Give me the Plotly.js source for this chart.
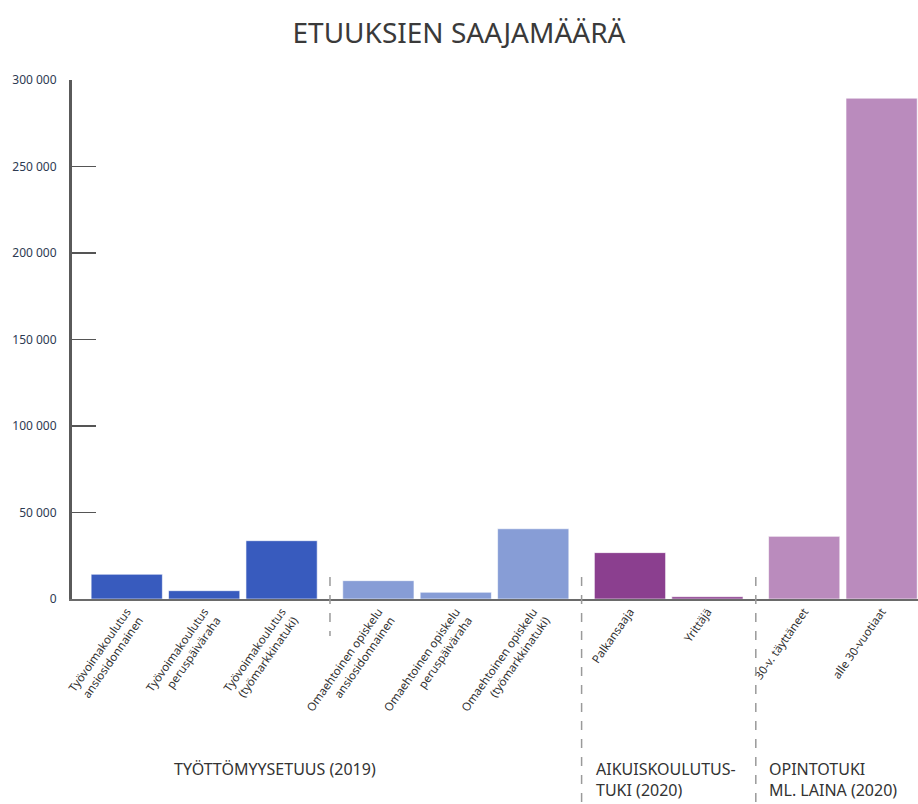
<!DOCTYPE html>
<html>
<head>
<meta charset="utf-8">
<script src="https://cdn.plot.ly/plotly-3.0.1.min.js"></script>
<style>html,body{margin:0;padding:0;background:#fff;}#chart{width:918px;height:804px;}</style>
</head>
<body>
<div id="chart"></div>
<script>
// ---- data ----
const categories = [
  "Työvoimakoulutus<br>ansiosidonnainen",
  "Työvoimakoulutus<br>peruspäiväraha",
  "Työvoimakoulutus<br>(työmarkkinatuki)",
  "Omaehtoinen opiskelu<br>ansiosidonnainen",
  "Omaehtoinen opiskelu<br>peruspäiväraha",
  "Omaehtoinen opiskelu<br>(työmarkkinatuki)",
  "Palkansaaja",
  "Yrittäjä",
  "30-v. täyttäneet",
  "alle 30-vuotiaat"
];
const recipients = [14300, 4800, 33700, 10600, 3900, 40600, 26800, 1300, 36200, 289500];
const subgroupOf = [0, 0, 0, 1, 1, 1, 2, 2, 3, 3];
const groupLabels = [
  "TYÖTTÖMYYSETUUS (2019)",
  "AIKUISKOULUTUS-<br>TUKI (2020)",
  "OPINTOTUKI<br>ML. LAINA (2020)"
];
const barColors = ["#385BBE","#385BBE","#385BBE","#879DD6","#879DD6","#879DD6","#8B3F8F","#8B3F8F","#BA8BBD","#BA8BBD"];
const yTicks = [0, 50000, 100000, 150000, 200000, 250000, 300000];

// ---- layout helpers ----
const GAP = 0.25;
const xpos = categories.map((c, i) => i + subgroupOf[i] * GAP);
const seps = [];
for (let i = 1; i < xpos.length; i++) {
  if (subgroupOf[i] !== subgroupOf[i - 1]) seps.push((xpos[i] + xpos[i - 1]) / 2);
}

const FONT = "Noto Sans, Open Sans, sans-serif";
const plotTop = 80, plotBottom = 599, plotH = plotBottom - plotTop;
const py = (px) => (plotBottom - px) / plotH;

const shapes = seps.map((s, k) => ({
  type: "line", xref: "x", yref: "paper",
  x0: s, x1: s, y0: py(577), y1: k === 0 ? py(636) : py(804),
  line: {color: "#9a9a9a", width: 1.5, dash: "dash"}
}));
shapes.push({type: "line", xref: "paper", yref: "paper", x0: 0, x1: 0, y0: 0, y1: 1,
  line: {color: "#5a5a5a", width: 2}});

const annPos = [0.58, 6.04, 8.27];
const annotations = groupLabels.map((t, k) => ({
  text: t, xref: "x", yref: "paper", x: annPos[k], y: py(756),
  xanchor: "left", yanchor: "top", align: "left", showarrow: false,
  font: {family: FONT, size: 16, color: "#333"}
}));

const trace = {
  type: "bar", x: xpos, y: recipients, width: 0.92,
  marker: {color: barColors, line: {color: "rgba(255,255,255,0.6)", width: 1}},
  hoverinfo: "skip"
};

const layout = {
  width: 918, height: 804,
  margin: {l: 71, r: 0, t: plotTop, b: 804 - plotBottom},
  paper_bgcolor: "#fff", plot_bgcolor: "#fff",
  separators: ", ",
  showlegend: false,
  title: {text: "ETUUKSIEN SAAJAMÄÄRÄ", x: 0.5, xanchor: "center", y: 1 - 33 / 804, yanchor: "middle",
          font: {family: FONT, size: 28, color: "#3a3a3a"}},
  xaxis: {
    range: [-0.72, 10.22], tickmode: "array", tickvals: xpos, ticktext: categories,
    tickangle: -55, tickfont: {family: FONT, size: 11.5, color: "#333"},
    showline: true, linecolor: "#6a6a6a", linewidth: 1.5, ticks: "", showgrid: false, zeroline: false,
    fixedrange: true
  },
  yaxis: {
    range: [0, 300000], tickmode: "array", tickvals: yTicks, tickformat: ",d",
    ticks: "inside", ticklen: 25, tickwidth: 1.5, tickcolor: "#555",
    ticklabelstandoff: 10,
    tickfont: {family: FONT, size: 12, color: "#2d3a52"},
    showline: true, linecolor: "#5a5a5a", linewidth: 2, showgrid: false, zeroline: false,
    fixedrange: true
  },
  shapes: shapes,
  annotations: annotations
};

Plotly.newPlot("chart", [trace], layout, {displayModeBar: false, staticPlot: true});
</script>
</body>
</html>
